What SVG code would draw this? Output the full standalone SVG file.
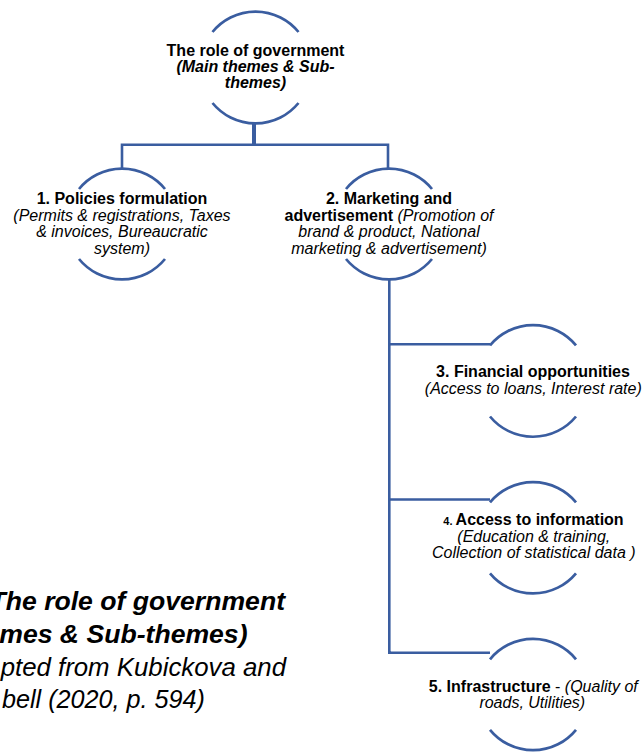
<svg xmlns="http://www.w3.org/2000/svg" width="642" height="753" viewBox="0 0 642 753">
<style>
.arc{fill:none;stroke:#3A5DA0;stroke-width:2.7;}
.ln{fill:none;stroke:#3A5DA0;stroke-width:2.6;}
.stem{fill:none;stroke:#3A5DA0;stroke-width:4;}
text{font-family:"Liberation Sans",Arial,sans-serif;font-size:16px;fill:#000;}
.c{text-anchor:middle;}
.b{font-weight:bold;}
.i{font-style:italic;}
.cap{text-anchor:end;}
text.capb{font-size:26.6px;}
text.capr{font-size:25.8px;}
text.capr2{font-size:25.2px;}
</style>
<rect width="642" height="753" fill="#fff"/>
<g id="connectors">
<line class="stem" x1="254" y1="122" x2="254" y2="145"/>
<polyline class="ln" points="122,168.5 122,144.8 388,144.8 388,168.5"/>
<line class="ln" x1="389.3" y1="279" x2="389.3" y2="652.7"/>
<line class="ln" x1="389.3" y1="344.3" x2="490" y2="344.3"/>
<line class="ln" x1="389.3" y1="499.5" x2="490" y2="499.5"/>
<polyline class="ln" points="389.3,651 389.3,652.7 490,652.7"/>
</g>
<g id="node-root">
<path class="arc" d="M212.5,32 A55.5,55.5 0 0 1 298.5,32"/>
<path class="arc" d="M212.5,103 A55.5,55.5 0 0 0 298.5,103"/>
<text class="c b" x="255.5" y="55.7">The role of government</text>
<text class="c b i" x="255.5" y="71.9">(Main themes &amp; Sub-</text>
<text class="c b i" x="255.5" y="88.3">themes)</text>
</g>
<g id="node-1">
<path class="arc" d="M79,189 A55.5,55.5 0 0 1 165,189"/>
<path class="arc" d="M79,259 A55.5,55.5 0 0 0 165,259"/>
<text class="c b" x="122" y="204">1. Policies formulation</text>
<text class="c i" x="122" y="220.7">(Permits &amp; registrations, Taxes</text>
<text class="c i" x="122" y="237.2">&amp; invoices, Bureaucratic</text>
<text class="c i" x="122" y="253.5">system)</text>
</g>
<g id="node-2">
<path class="arc" d="M346,189 A55.5,55.5 0 0 1 432,189"/>
<path class="arc" d="M346,259 A55.5,55.5 0 0 0 432,259"/>
<text class="c b" x="389" y="204">2. Marketing and</text>
<text class="c" x="389" y="220.7"><tspan class="b">advertisement</tspan><tspan class="i"> (Promotion of</tspan></text>
<text class="c i" x="389" y="237.2">brand &amp; product, National</text>
<text class="c i" x="389" y="253.5">marketing &amp; advertisement)</text>
</g>
<g id="node-3">
<path class="arc" d="M490,345.3 A55.8,55.8 0 0 1 576,345.3"/>
<path class="arc" d="M490,416.5 A55.8,55.8 0 0 0 576,416.5"/>
<text class="c b" x="533" y="377.3">3. Financial opportunities</text>
<text class="c i" x="533.3" y="394">(Access to loans, Interest rate)</text>
</g>
<g id="node-4">
<path class="arc" d="M490,502.3 A56,56 0 0 1 576,502.3"/>
<path class="arc" d="M490,573.3 A56,56 0 0 0 576,573.3"/>
<text class="c b" x="533.5" y="525"><tspan font-size="11">4. </tspan>Access to information</text>
<text class="c i" x="533.8" y="541.7">(Education &amp; training,</text>
<text class="c i" x="533.8" y="558.3">Collection of statistical data )</text>
</g>
<g id="node-5">
<path class="arc" d="M490,659.3 A55.5,55.5 0 0 1 576,659.3"/>
<path class="arc" d="M490,729.8 A55.5,55.5 0 0 0 576,729.8"/>
<text class="c" x="533.3" y="692.3"><tspan class="b">5. Infrastructure</tspan> - <tspan class="i">(Quality of</tspan></text>
<text class="c i" x="532.3" y="708.3">roads, Utilities)</text>
</g>
<g id="caption">
<text class="cap capb b i" x="285" y="609.5">The role of government</text>
<text class="cap capb b i" x="247.5" y="642.5">mes &amp; Sub-themes)</text>
<text class="cap capr i" x="286" y="675.5">pted from Kubickova and</text>
<text class="cap capr2 i" x="205" y="708">bell (2020, p. 594)</text>
</g>
</svg>
